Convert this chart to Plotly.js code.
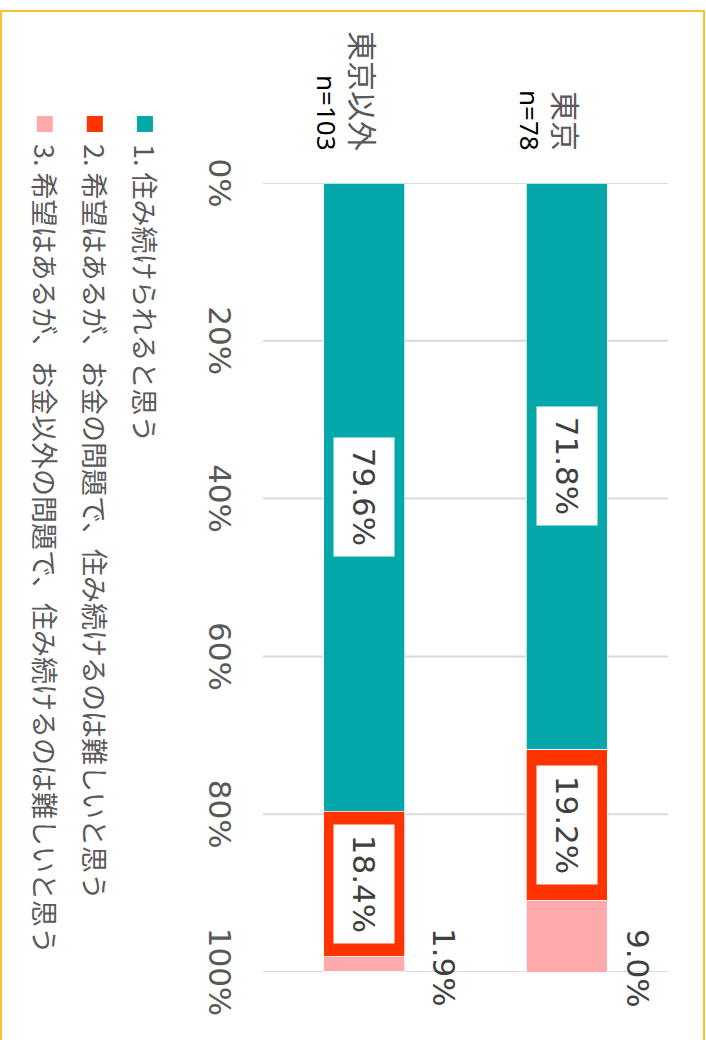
<!DOCTYPE html>
<html><head><meta charset="utf-8">
<script src="https://cdn.plot.ly/plotly-3.0.1.min.js"></script>
<style>
html,body{margin:0;padding:0;width:706px;height:1040px;overflow:hidden;background:#fff;}
#chart{position:absolute;left:0;top:0;width:1040px;height:706px;transform-origin:0 0;transform:translate(706px,0) rotate(90deg);}
</style></head><body><div id="chart"></div>
<script>
// ---- data ----
const categories = ['東京', '東京以外'];
const sampleSizes = ['n=78', 'n=103'];
const seriesNames = [
  '1. 住み続けられると思う',
  '2. 希望はあるが、お金の問題で、住み続けるのは難しいと思う',
  '3. 希望はあるが、お金以外の問題で、住み続けるのは難しいと思う'
];
const series1 = [71.8, 79.6];
const series2 = [19.2, 18.4];
const series3 = [9.0, 1.9];
const tickValues = [0, 20, 40, 60, 80, 100];
const tickLabels = ['0%', '20%', '40%', '60%', '80%', '100%'];

// ---- styling ----
const colors = ['#05A8AA', '#FF3300', '#FFAAAA'];
const W = 1040, H = 706;
const M = {l: 183, r: 68, t: 38, b: 263, autoexpand: false};
const outsideShift = [71, 80];
const allSeries = [series1, series2, series3];

const traces = [];
allSeries.forEach((vals, k) => {
  traces.push({
    type: 'bar', orientation: 'h', y: categories, x: vals,
    name: seriesNames[k], showlegend: false,
    marker: {color: colors[k], line: {color: 'rgba(255,255,255,0.7)', width: 1}},
    hoverinfo: 'skip'
  });
});
seriesNames.forEach((n, k) => {
  traces.push({
    type: 'scatter', mode: 'markers', x: [null], y: [null], name: n,
    legendgroup: 'g' + k, showlegend: true,
    marker: {symbol: 'square', size: 16, color: colors[k]}
  });
});

const annotations = [];
categories.forEach((c, i) => {
  annotations.push({x: 0, y: c, xref: 'x', yref: 'y', text: c, showarrow: false,
    xanchor: 'right', yanchor: 'middle', xshift: -30,
    font: {family: 'Noto Sans CJK JP', size: 30, color: '#595959'}});
  annotations.push({x: 0, y: c, xref: 'x', yref: 'y', text: sampleSizes[i], showarrow: false,
    xanchor: 'right', yanchor: 'middle', xshift: -30, yshift: -37,
    font: {family: 'Noto Sans', size: 26, color: '#000000'}});
  let start = 0;
  [series1[i], series2[i]].forEach(v => {
    annotations.push({x: start + v / 2, y: c, xref: 'x', yref: 'y', text: v.toFixed(1) + '%',
      showarrow: false, bgcolor: '#ffffff', width: 100, height: 42, borderpad: 9,
      font: {family: 'DejaVu Sans', size: 31, color: '#404040'}});
    start += v;
  });
  const total = series1[i] + series2[i] + series3[i];
  annotations.push({x: total, y: c, xref: 'x', yref: 'y', text: series3[i].toFixed(1) + '%',
    showarrow: false, xshift: -4, yshift: outsideShift[i],
    font: {family: 'DejaVu Sans', size: 31, color: '#404040'}});
});

const pw = W - M.l - M.r, ph = H - M.t - M.b;
const px = ox => (ox - M.l) / pw;
const py = oy => (H - M.b - oy) / ph;

const shapes = tickValues.map(t => ({type: 'line', xref: 'x', yref: 'paper',
  x0: t, x1: t, y0: 0, y1: 1, layer: 'below',
  line: {color: '#D9D9D9', width: 2}}));
shapes.push({type: 'rect', xref: 'paper', yref: 'paper',
  x0: px(11), x1: px(1060), y0: py(705), y1: py(2),
  line: {color: '#F8C12E', width: 2}, fillcolor: 'rgba(0,0,0,0)', layer: 'above'});

const layout = {
  width: W, height: H, margin: M,
  paper_bgcolor: '#ffffff', plot_bgcolor: '#ffffff',
  barmode: 'stack', bargap: 0.6,
  showlegend: true,
  xaxis: {range: [0, 100], tickvals: tickValues, ticktext: tickLabels,
    showgrid: false, zeroline: false,
    showline: false, ticks: '', ticklabelstandoff: 22, automargin: false,
    tickfont: {family: 'DejaVu Sans', size: 31, color: '#595959'}, fixedrange: true},
  yaxis: {categoryorder: 'array', categoryarray: categories, autorange: 'reversed',
    showticklabels: false, showgrid: false, zeroline: false, ticks: '', automargin: false, fixedrange: true},
  legend: {xref: 'container', yref: 'container', x: 104 / W, y: 1 - 537 / H,
    xanchor: 'left', yanchor: 'top', orientation: 'v', traceorder: 'grouped',
    tracegroupgap: 12, bgcolor: 'rgba(0,0,0,0)',
    font: {family: 'Noto Sans CJK JP', size: 27, color: '#595959'}},
  annotations: annotations,
  shapes: shapes
};

Plotly.newPlot('chart', traces, layout, {displayModeBar: false, staticPlot: true});
</script></body></html>
